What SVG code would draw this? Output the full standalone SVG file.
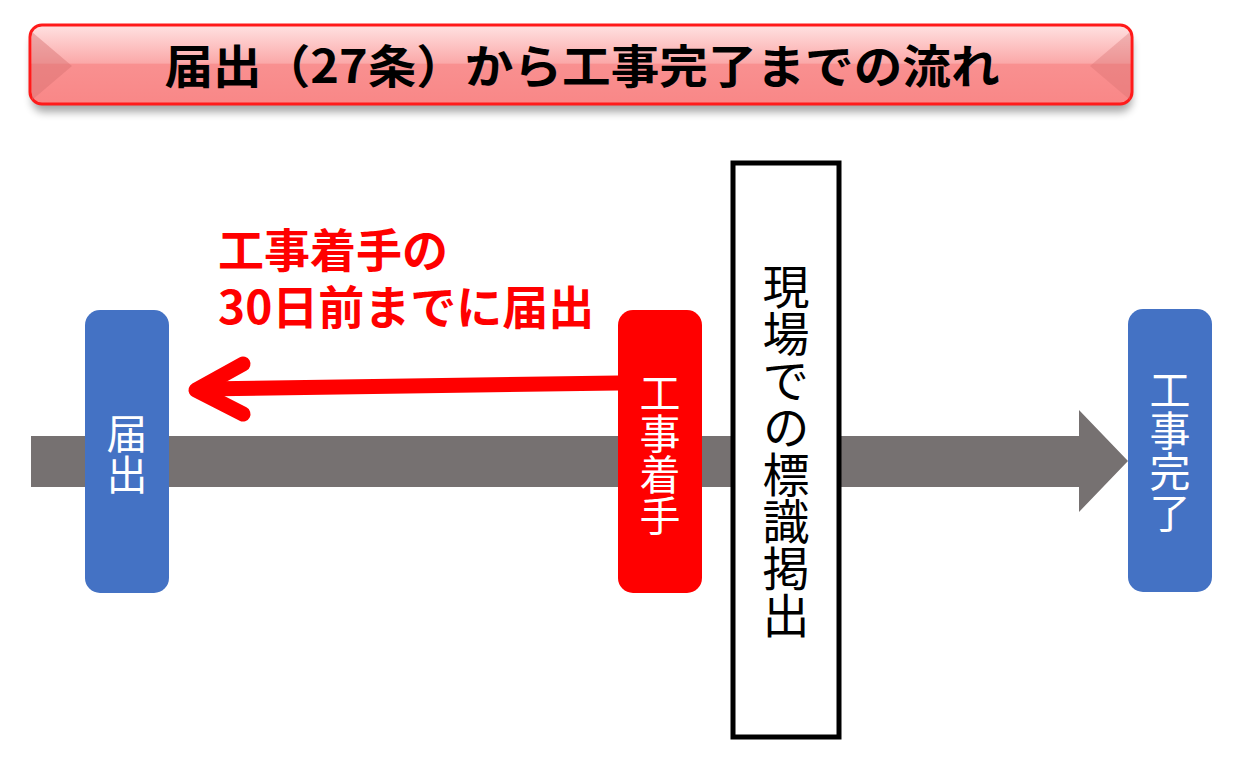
<svg xmlns="http://www.w3.org/2000/svg" width="1238" height="780" viewBox="0 0 1238 780">
<defs>
<linearGradient id="bannerGrad" x1="0" y1="0" x2="0" y2="1">
<stop offset="0" stop-color="#FFE2E2"/>
<stop offset="0.48" stop-color="#FBA9A9"/>
<stop offset="0.5" stop-color="#F99090"/>
<stop offset="1" stop-color="#F98787"/>
</linearGradient>
<filter id="shadow" x="-5%" y="-20%" width="110%" height="160%">
<feGaussianBlur stdDeviation="4"/>
</filter>
<style>
.blue{fill:#4472C4}
.boxtxt{font-family:"Noto Sans CJK JP","Noto Sans",sans-serif;fill:#fff;font-size:41px;writing-mode:vertical-rl;text-anchor:middle}
.title{font-family:"Noto Sans CJK JP","Noto Sans",sans-serif;font-weight:bold;font-size:46px;fill:#000;text-anchor:middle}
.note{font-family:"Noto Sans CJK JP","Noto Sans",sans-serif;font-weight:bold;font-size:46px;fill:#FF0000}
</style>
</defs>

<g id="title-banner">
<rect x="32" y="34" width="1100" height="78" rx="12" fill="#000" opacity="0.35" filter="url(#shadow)"/>
<rect x="30" y="25" width="1102" height="79" rx="12" fill="url(#bannerGrad)" stroke="#FF1A1A" stroke-width="3"/>
<path d="M32,32 L72,66 L32,100 Z" fill="#D87070" opacity="0.45"/>
<path d="M1130,32 L1090,66 L1130,100 Z" fill="#D87070" opacity="0.35"/>
<text class="title" x="582" y="83" textLength="835" lengthAdjust="spacingAndGlyphs">届出（27条）から工事完了までの流れ</text>
</g>

<g id="connectors">
<path id="timeline" d="M31,436 L1079,436 L1079,410 L1128,461 L1079,512 L1079,487 L31,487 Z" fill="#767171"/>
<g id="red-arrow" fill="none" stroke="#FF0000" stroke-width="15" stroke-linecap="round" stroke-linejoin="round">
<line x1="618" y1="383" x2="200" y2="389"/>
<polyline points="243,364 196,390 243,414"/>
</g>
</g>

<g id="node-todokede">
<rect class="blue" x="85" y="310" width="84" height="283" rx="15"/>
<text class="boxtxt" x="127" y="454">届出</text>
</g>

<g id="node-chakushu">
<rect x="618" y="310" width="84" height="283" rx="15" fill="#FF0000"/>
<text class="boxtxt" x="660" y="454">工事着手</text>
</g>

<g id="node-hyoshiki">
<rect x="733" y="163" width="106" height="574" fill="#fff" stroke="#000" stroke-width="5"/>
<text class="boxtxt" x="786" y="451" style="fill:#000;font-size:47px">現場での標識掲出</text>
</g>

<g id="node-kanryo">
<rect class="blue" x="1128" y="309" width="84" height="283" rx="15"/>
<text class="boxtxt" x="1170" y="451">工事完了</text>
</g>

<g id="note">
<text class="note" x="218" y="267">工事着手の</text>
<text class="note" x="218" y="324">30日前までに届出</text>
</g>
</svg>
